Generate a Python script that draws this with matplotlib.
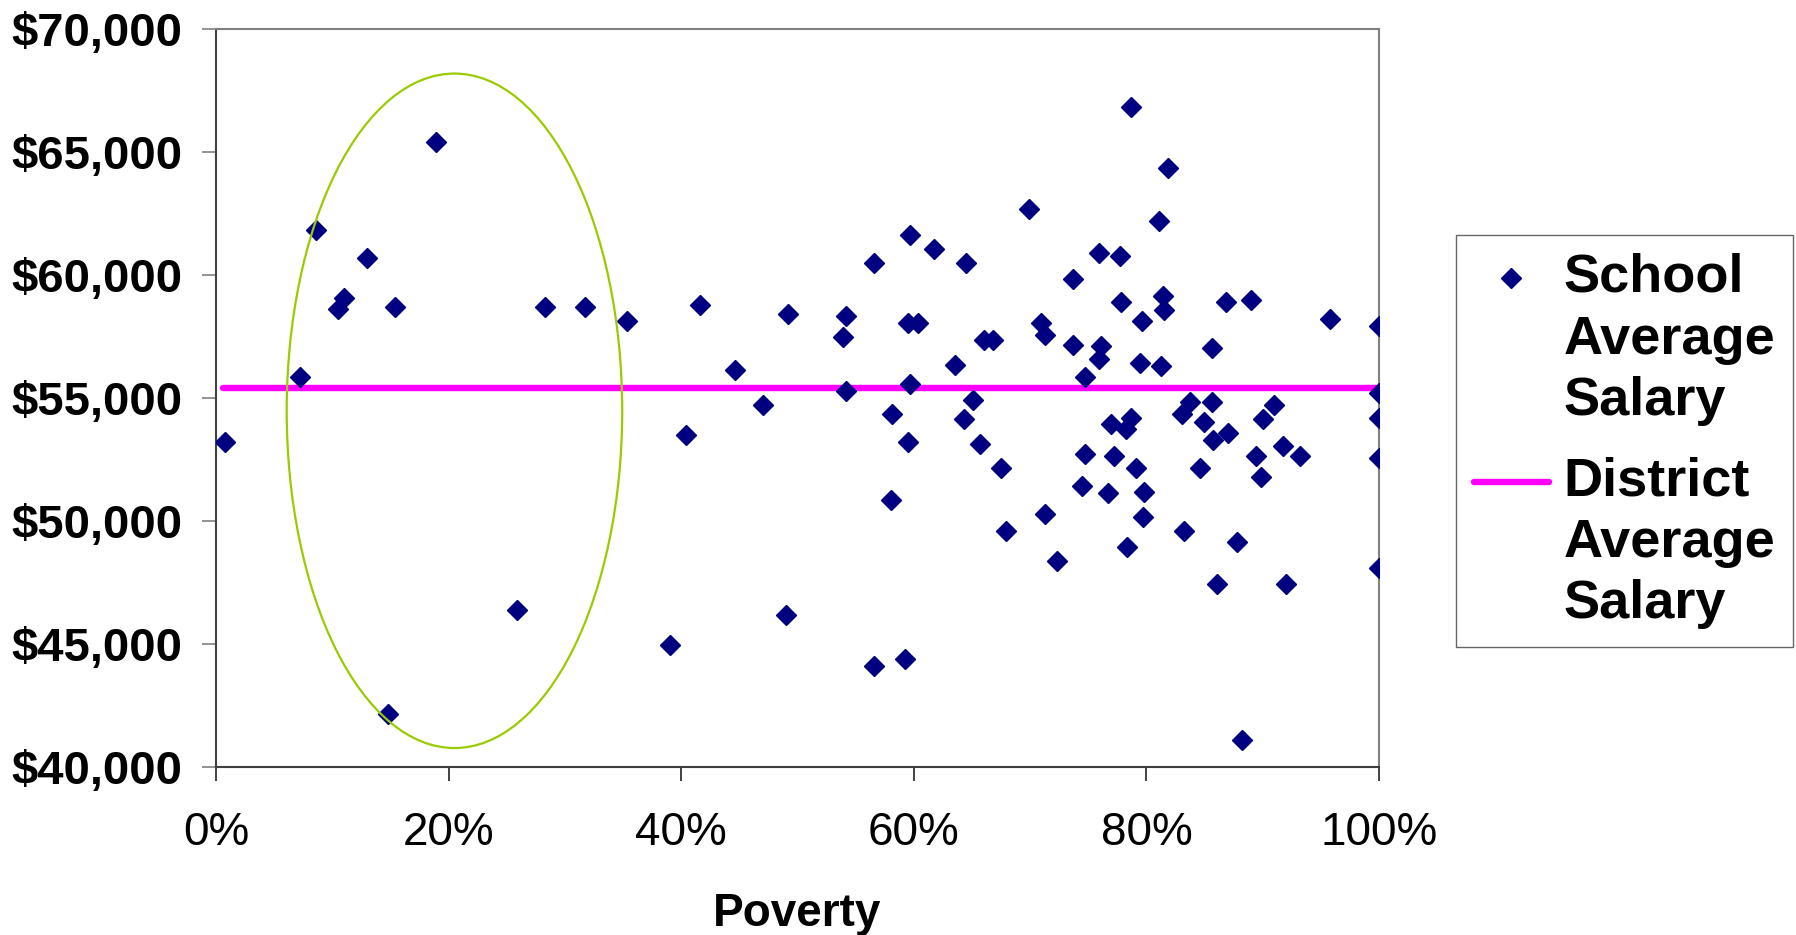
import matplotlib.pyplot as plt
from matplotlib.patches import Ellipse
from matplotlib.ticker import FuncFormatter, PercentFormatter
from matplotlib.legend_handler import HandlerLine2D

plt.rcParams['font.family'] = ['Liberation Sans', 'DejaVu Sans']

# poverty share (fraction) and school average salary
poverty = [0.008, 0.072, 0.086, 0.110, 0.105, 0.1295, 0.154, 0.189, 0.148, 0.259,
           0.283, 0.317, 0.353, 0.390, 0.404, 0.416,
           0.446, 0.470, 0.490, 0.492, 0.542, 0.5395, 0.542, 0.566, 0.566, 0.580,
           0.581, 0.592, 0.595, 0.595, 0.604, 0.597, 0.597, 0.617, 0.6355, 0.643,
           0.645, 0.651, 0.657, 0.660, 0.668, 0.675, 0.679, 0.699, 0.709, 0.713,
           0.713, 0.723, 0.737, 0.737, 0.745, 0.747, 0.747, 0.759, 0.761, 0.759,
           0.767, 0.770, 0.7725, 0.777, 0.7785, 0.7865, 0.787, 0.7825, 0.791, 0.783,
           0.796, 0.7945, 0.798, 0.797,
           0.8186, 0.8106, 0.8146, 0.815, 0.8126, 0.8685, 0.890, 0.958, 1.0, 0.8565,
           1.0, 1.0, 1.0, 1.0, 0.8375, 0.8304, 0.8565, 0.910, 0.9005, 0.8496,
           0.8576, 0.870, 0.9177, 0.8943, 0.932, 0.846, 0.8983, 0.8326, 0.8782, 0.8605,
           0.9203, 0.8825]
salary = [53190, 55830, 61800, 59060, 58610, 60660, 58670, 65390, 42150, 46390,
          58670, 58670, 58120, 44970, 53475, 58780,
          56135, 54714, 46187, 58408, 58307, 57454, 55282, 60459, 44117, 50836,
          54328, 44401, 53191, 58023, 58023, 55566, 61616, 61047, 56317, 54145,
          60479, 54917, 53110, 57353, 57353, 52156, 49598, 62651, 58023, 57556,
          50268, 48360, 59809, 57150, 51405, 52724, 55850, 60865, 57109, 56581,
          51120, 53942, 52623, 60743, 58875, 66813, 54166, 53740, 52156, 48949,
          58104, 56399, 51161, 50166,
          64336, 62184, 59119, 58571, 56297, 58875, 58977, 58205, 57921, 57008,
          55180, 54166, 52542, 48075, 54815, 54348, 54815, 54714, 54145, 53996,
          53293, 53577, 53029, 52623, 52623, 52136, 51770, 49598, 49131, 47426,
          47426, 41112]

district_x = [0.006, 1.0]
district_avg = [55384, 55384]

# highlighted low-poverty group (center x, center y, width, height)
circle = (0.205, 54470, 0.2885, 27400)

LEG_SIZE = 39
LINESP = 1.3


class FirstLineHandler(HandlerLine2D):
    # put the legend key next to the first line of a 3-line label
    def create_artists(self, legend, orig_handle, xdescent, ydescent,
                       width, height, fontsize, trans):
        arts = super().create_artists(legend, orig_handle, xdescent, ydescent,
                                      width, height, fontsize, trans)
        shift = fontsize * 0.877 * LINESP
        for a in arts:
            a.set_ydata([y + shift for y in a.get_ydata()])
        return arts


fig = plt.figure(figsize=(17.96, 9.35), dpi=100)
ax = fig.add_axes([0.1203, 0.1797, 0.6475, 0.7898])

pts, = ax.plot(poverty, salary, linestyle='none', marker='D', markersize=10.2,
               color='#000080', label='School\nAverage\nSalary', zorder=3)
avg, = ax.plot(district_x, district_avg, color='#FF00FF', lw=4.6,
               solid_capstyle='round', label='District\nAverage\nSalary', zorder=2)
ax.add_patch(Ellipse((circle[0], circle[1]), circle[2], circle[3],
                     fill=False, edgecolor='#99CC00', lw=1.6, zorder=4))

ax.set_xlim(0, 1)
ax.set_ylim(40000, 70000)
ax.set_xticks([0, 0.2, 0.4, 0.6, 0.8, 1.0])
ax.set_yticks(range(40000, 70001, 5000))
ax.xaxis.set_major_formatter(PercentFormatter(1.0, decimals=0))
ax.yaxis.set_major_formatter(FuncFormatter(lambda v, p: '${:,.0f}'.format(v)))

ax.tick_params(axis='y', direction='out', length=10, width=1.2, color='#808080',
               pad=14, labelsize=34)
ax.tick_params(axis='x', direction='out', length=10, width=1.2, color='#202020',
               pad=22, labelsize=33)
for lab in ax.get_yticklabels():
    lab.set_fontweight('bold')

for s in ['top', 'right']:
    ax.spines[s].set_color('#808080')
    ax.spines[s].set_linewidth(1.5)
for s in ['left', 'bottom']:
    ax.spines[s].set_color('#404040')
    ax.spines[s].set_linewidth(1.5)

ax.set_xlabel('Poverty', fontsize=33, fontweight='bold', labelpad=26)

h = FirstLineHandler()
leg = fig.legend(handles=[pts, avg], loc='upper left',
                 bbox_to_anchor=(0.8107, 0.7487), bbox_transform=fig.transFigure,
                 prop={'weight': 'bold', 'size': LEG_SIZE}, frameon=True,
                 fancybox=False, edgecolor='#404040', borderaxespad=0,
                 handlelength=1.38, handletextpad=0.28, borderpad=0.33,
                 labelspacing=0.55, handler_map={pts: h, avg: h})
leg.get_frame().set_linewidth(1.0)
for t in leg.get_texts():
    t.set_linespacing(LINESP)

fig.savefig('out.png', dpi=100)
